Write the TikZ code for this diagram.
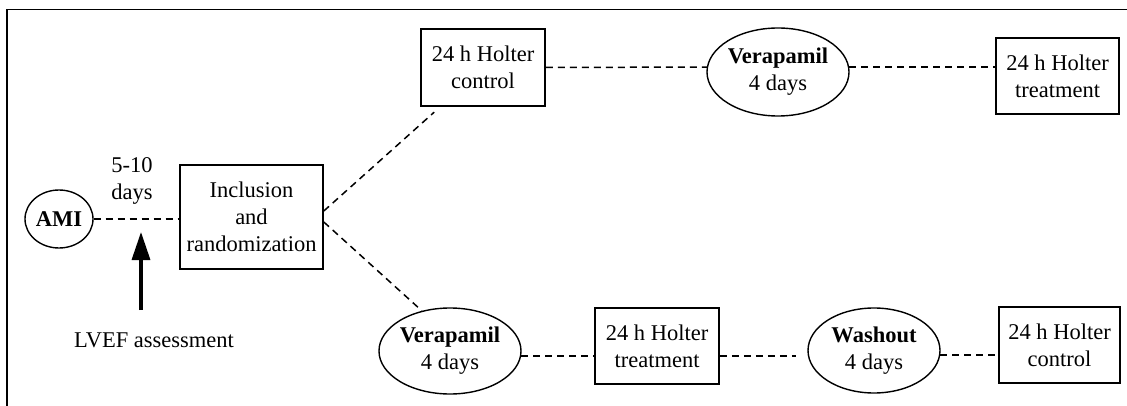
\documentclass[tikz,border=0pt]{standalone}
\usepackage{fontspec}
\setmainfont{Liberation Serif}
\usepackage{tikz}
\usetikzlibrary{shapes.geometric,arrows.meta}

\begin{document}
\begin{tikzpicture}[x=1pt, y=-1pt,
  every node/.style={font=\fontsize{22.5}{27}\selectfont, align=center, inner sep=0pt},
  holterbox/.style={draw, line width=1.6pt, rectangle},
  drugoval/.style={draw, line width=1.4pt, ellipse},
  link/.style={line width=1.5pt, dash pattern=on 7pt off 5pt}]

% Page size (reference pixels, 1 px = 1 pt)
\useasboundingbox (0,0) rectangle (1127,406);

% Frame (top and left only)
\draw[line width=1.8pt] (7,406) -- (7,9.5) -- (1127,9.5);

% Start and inclusion
\node[drugoval, minimum width=68pt, minimum height=58pt] (ami) at (59,219) {\textbf{AMI}};
\node[holterbox, minimum width=143pt, minimum height=104pt] (incl) at (251.5,217)
  {Inclusion\\and\\randomization};
\node (delay) at (132,181) {5-10\\days};

% Upper branch
\node[holterbox, minimum width=124pt, minimum height=77pt] (hcA) at (483,67.5) {24 h Holter\\control};
\node[drugoval, minimum width=134pt, minimum height=88pt] (veraA) at (778,72) {\textbf{Verapamil}\\4 days};
\node[holterbox, minimum width=123pt, minimum height=76pt] (htA) at (1057.5,76) {24 h Holter\\treatment};

% Lower branch
\node[drugoval, minimum width=134pt, minimum height=86pt] (veraB) at (450,351) {\textbf{Verapamil}\\4 days};
\node[holterbox, minimum width=124pt, minimum height=76pt] (htB) at (657,346) {24 h Holter\\treatment};
\node[drugoval, minimum width=132pt, minimum height=85pt] (wash) at (874,350.5) {\textbf{Washout}\\4 days};
\node[holterbox, minimum width=121pt, minimum height=76pt] (hcB) at (1059.5,345) {24 h Holter\\control};

% LVEF arrow
\node (lvef) at (154,340) {LVEF assessment};
\coordinate (tail) at (141,310);
\coordinate (tip) at (141,232);
\draw[-{Triangle[length=28pt,width=18pt]}, line width=3.3pt] (tail) -- (tip);

% Dashed links
\draw[link] (ami.east) -- (ami.east -| incl.west);
\draw[link, shorten >=8pt] ([yshift=6pt]incl.east) -- ([xshift=20pt]hcA.south west);
\draw[link] ([yshift=-5pt]incl.east) -- (veraB.125);
\draw[link] (hcA.east) -- (veraA.176);
\draw[link] (veraA.4) -- (veraA.4 -| htA.west);
\draw[link] (veraB.-4) -- (veraB.-4 -| htB.west);
\draw[link, shorten >=11pt] ([yshift=-10pt]htB.east) -- ([yshift=-10pt]htB.east -| wash.west);
\draw[link] (wash.-4) -- (wash.-4 -| hcB.west);

\end{tikzpicture}
\end{document}
